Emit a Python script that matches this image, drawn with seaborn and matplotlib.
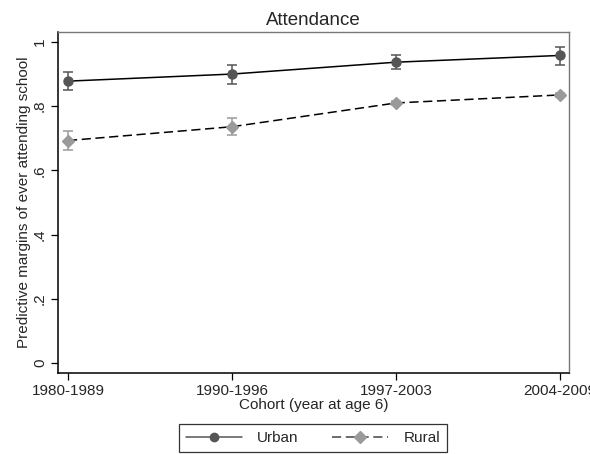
import matplotlib

matplotlib.use("Agg")

import matplotlib.pyplot as plt
import numpy as np
import pandas as pd
import seaborn as sns
from matplotlib.lines import Line2D

cohorts = ["1980-1989", "1990-1996", "1997-2003", "2004-2009"]
urban = [0.878, 0.900, 0.937, 0.958]
urban_lo = [0.850, 0.869, 0.915, 0.928]
urban_hi = [0.906, 0.928, 0.958, 0.984]
rural = [0.693, 0.736, 0.810, 0.835]
rural_lo = [0.664, 0.711, 0.803, 0.828]
rural_hi = [0.724, 0.762, 0.816, 0.842]
yticks = [0, 0.2, 0.4, 0.6, 0.8, 1.0]
ytick_labels = ["0", ".2", ".4", ".6", ".8", "1"]

URBAN_C = "#555555"
RURAL_C = "#9a9a9a"

sns.set_style("white")
plt.rcParams["font.family"] = ["Liberation Sans", "DejaVu Sans"]

df = pd.DataFrame({
    "pos": list(range(len(cohorts))) * 2,
    "margin": urban + rural,
    "lo": urban_lo + rural_lo,
    "hi": urban_hi + rural_hi,
    "area": ["Urban"] * len(cohorts) + ["Rural"] * len(cohorts),
})

fig = plt.figure(figsize=(5.9, 4.54), dpi=100)
ax = fig.add_axes([0.0983, 0.1784, 0.866, 0.7511])

styles = {
    "Urban": dict(color=URBAN_C, marker="o", ls="-", ms=6.5),
    "Rural": dict(color=RURAL_C, marker="D", ls=(0, (6, 3)), ms=6),
}
for area, st in styles.items():
    sub = df[df["area"] == area]
    sns.lineplot(data=sub, x="pos", y="margin", color="black", linewidth=1.1,
                 linestyle=st["ls"], ax=ax, legend=False, zorder=2)
    ax.errorbar(sub["pos"], sub["margin"],
                yerr=[sub["margin"] - sub["lo"], sub["hi"] - sub["margin"]],
                fmt="none", ecolor=st["color"], elinewidth=1.1, capsize=3.5,
                capthick=1.1, zorder=3)
    ax.plot(sub["pos"], sub["margin"], ls="none", marker=st["marker"],
            ms=st["ms"], color=st["color"], mec=st["color"], zorder=4)

ax.set_xlim(-0.061, 3.055)
ax.set_ylim(-0.031, 1.031)
ax.set_xticks(range(len(cohorts)))
ax.set_xticklabels(cohorts, fontsize=11)
ax.set_yticks(yticks)
ax.set_yticklabels(ytick_labels, fontsize=11, rotation=90, va="center")
ax.tick_params(axis="both", direction="out", length=5, width=0.9, color="black",
               bottom=True, left=True, pad=3)
ax.set_xlabel("Cohort (year at age 6)", fontsize=11, labelpad=0)
ax.set_ylabel("Predictive margins of ever attending school", fontsize=11, labelpad=1)
ax.set_title("Attendance", fontsize=13.5, pad=5)

for side in ["left", "bottom"]:
    ax.spines[side].set_color("black")
    ax.spines[side].set_linewidth(1.1)
for side in ["top", "right"]:
    ax.spines[side].set_color("#777777")
    ax.spines[side].set_linewidth(1.0)

handles = [
    Line2D([], [], color=URBAN_C, lw=1.1, marker="o", ms=6, ls="-"),
    Line2D([], [], color="#444444", lw=1.1, marker="D", ms=6, mfc=RURAL_C,
           mec=RURAL_C, ls=(0, (6, 3))),
]
leg = fig.legend(handles, ["Urban", "Rural"], loc="center", ncol=2,
                 bbox_to_anchor=(0.5305, 0.035), frameon=True, fancybox=False,
                 edgecolor="black", fontsize=11, handlelength=3.65,
                 columnspacing=2.2, borderpad=0.45, handletextpad=1.0)
leg.get_frame().set_linewidth(0.9)

fig.savefig("out.png", dpi=100)
